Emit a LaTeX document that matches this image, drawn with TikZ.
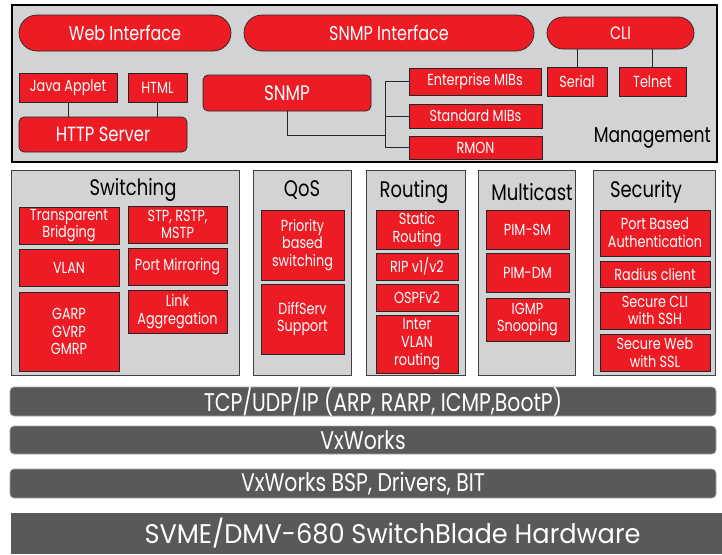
\documentclass[tikz,border=0pt]{standalone}
\usepackage{fontspec}
\setmainfont[FakeStretch=0.8]{Poppins}
\newfontfamily\hwfont[FakeStretch=0.95]{Poppins}
\definecolor{snred}{HTML}{ED1C24}
\definecolor{pgray}{HTML}{D1D3D4}
\definecolor{bargray}{HTML}{58595B}

\begin{document}
\begin{tikzpicture}[x=1pt, y=-1pt,
    box/.style = {draw=black!85, line width=0.7pt, fill=snred, text=white, inner sep=0pt, align=center, font=\fontsize{16}{17.8}\selectfont},
    pill/.style = {box, font=\fontsize{20}{24}\selectfont},
    panel/.style = {draw=black!75, line width=0.8pt, fill=pgray, inner sep=0pt},
    title/.style = {inner sep=0pt, text=black, font=\fontsize{22.5}{26}\selectfont},
    bar/.style = {draw=black!35, line width=0.6pt, fill=bargray, rounded corners=4pt, inner sep=0pt},
    bartext/.style = {inner sep=0pt, text=white, font=\fontsize{25.5}{29}\selectfont},
    wire/.style = {draw=black!85, line width=0.8pt},
    sz/.style 2 args = {minimum width=#1pt, minimum height=#2pt}]
    \useasboundingbox[fill=white] (0,0) rectangle (722,554);

    % management
    \node[panel, sz={705}{157}, draw=black, line width=1.2pt] (mgmt) at (364.5,83.5) {};
    \node[title, anchor=east, font=\fontsize{21.5}{25}\selectfont] (mgmtl) at (711,137.5) {Management};
    \node[pill, sz={212}{36}, rounded corners=18pt] (web) at (125,33) {Web Interface};
    \node[pill, sz={290}{36}, rounded corners=18pt] (snmpif) at (389,33) {SNMP Interface};
    \node[pill, sz={147}{32}, rounded corners=16pt, font=\fontsize{18}{22}\selectfont] (cli) at (620.5,33) {CLI};
    \node[box, sz={98}{29}] (java) at (68,87.5) {Java Applet};
    \node[box, sz={59}{29}] (html) at (157.5,87.5) {HTML};
    \node[box, sz={168}{35}, rounded corners=5pt, font=\fontsize{20.5}{24}\selectfont] (http) at (103,134.5) {HTTP Server};
    \node[box, sz={168}{36}, rounded corners=5pt, font=\fontsize{21}{25}\selectfont] (snmp) at (287,93) {SNMP};
    \node[box, sz={132}{27}] (ent) at (475,81.5) {Enterprise MIBs};
    \node[box, sz={133}{24}] (std) at (475.5,116) {Standard MIBs};
    \node[box, sz={133}{23}] (rmon) at (475.5,147.5) {RMON};
    \node[box, sz={60}{29}] (serial) at (577,81.5) {Serial};
    \node[box, sz={67}{29}] (telnet) at (652.5,81.5) {Telnet};
    \coordinate (hub) at (385,135);

    \draw[wire] (java.south) -- (java.south |- http.north);
    \draw[wire] (html.south) -- (html.south |- http.north);
    \draw[wire] (serial.north) -- (serial.north |- cli.south);
    \draw[wire] (telnet.north) -- (telnet.north |- cli.south);
    \draw[wire] (snmp.south) |- (hub);
    \draw[wire] (ent.west) -| (hub);
    \draw[wire] (std.west) -| (hub);
    \draw[wire] (rmon.west) -| (hub);

    % feature panels
    \node[panel, sz={228}{205}] (sw) at (125,272.5) {};
    \node[panel, sz={98}{205}] (qos) at (302,272.5) {};
    \node[panel, sz={99}{205}] (rt) at (415.5,272.5) {};
    \node[panel, sz={97}{205}] (mc) at (526.5,272.5) {};
    \node[panel, sz={122}{205}] (sec) at (654,272.5) {};
    \node[title] (swt) at (133,190) {Switching};
    \node[title] (qost) at (302,190) {QoS};
    \node[title] (rtt) at (414,192) {Routing};
    \node[title] (mct) at (532,192) {Multicast};
    \node[title] (sect) at (646,192) {Security};

    \node[box, sz={100}{37}] (bridge) at (69,225.5) {Transparent\\Bridging};
    \node[box, sz={100}{37}] (vlan) at (69,267.5) {VLAN};
    \node[box, sz={100}{79}] (garp) at (69,331.5) {GARP\\GVRP\\GMRP};
    \node[box, sz={99}{37}] (stp) at (177.5,224.5) {STP, RSTP,\\MSTP};
    \node[box, sz={99}{37}] (mirror) at (177.5,266.5) {Port Mirroring};
    \node[box, sz={99}{43}] (lag) at (177.5,311.5) {Link\\Aggregation};
    \node[box, sz={83}{70}] (prio) at (302.5,245) {Priority\\based\\switching};
    \node[box, sz={83}{70}] (diff) at (302.5,319) {DiffServ\\Support};
    \node[box, sz={82}{39}] (static) at (417,229.5) {Static\\Routing};
    \node[box, sz={82}{27}] (rip) at (417,266.5) {RIP v1/v2};
    \node[box, sz={82}{27}] (ospf) at (417,297.5) {OSPFv2};
    \node[box, sz={82}{58}] (intervlan) at (417,344) {Inter\\VLAN\\routing};
    \node[box, sz={83}{39}] (pimsm) at (527.5,229.5) {PIM-SM};
    \node[box, sz={83}{39}] (pimdm) at (527.5,272.5) {PIM-DM};
    \node[box, sz={83}{43}] (igmp) at (527.5,319.5) {IGMP\\Snooping};
    \node[box, sz={110}{46}] (pba) at (655,233) {Port Based\\Authentication};
    \node[box, sz={110}{26}] (radius) at (655,274) {Radius client};
    \node[box, sz={110}{37}] (scli) at (655,310.5) {Secure CLI\\with SSH};
    \node[box, sz={110}{37}] (sweb) at (655,352.5) {Secure Web\\with SSL};

    % lower layers
    \node[bar, sz={706}{29}] (tcp) at (363,401.5) {};
    \node[bar, sz={706}{28}] (vx) at (363,440) {};
    \node[bar, sz={706}{29}] (bsp) at (363,483.5) {};
    \node[bar, sz={711}{41}, rounded corners=0pt, draw=none] (hw) at (366.5,533.5) {};
    \node[bartext] (tcpl) at ([xshift=20pt]tcp.center) {TCP/UDP/IP (ARP, RARP, ICMP,BootP)};
    \node[bartext] (vxl) at (vx.center) {VxWorks};
    \node[bartext] (bspl) at (bsp.center) {VxWorks BSP, Drivers, BIT};
    \node[bartext, font=\hwfont\fontsize{27}{31}\selectfont] (hwl) at ([xshift=26pt]hw.center) {SVME/DMV-680 SwitchBlade Hardware};
\end{tikzpicture}
\end{document}
